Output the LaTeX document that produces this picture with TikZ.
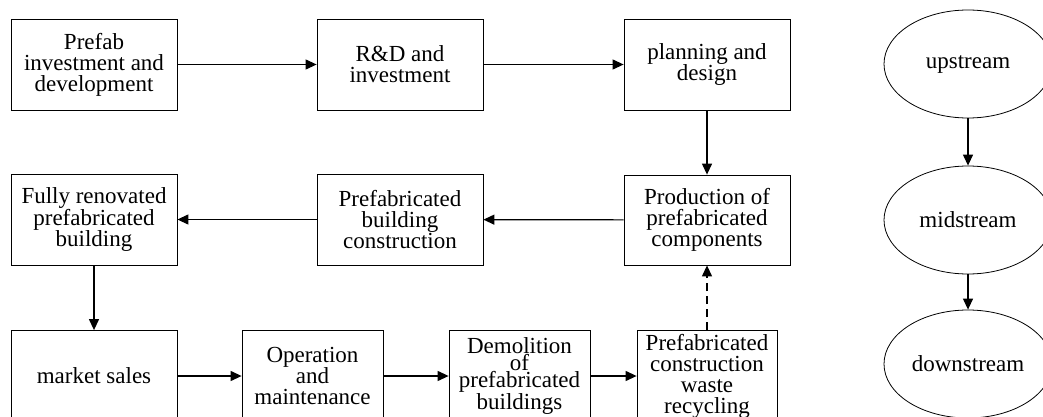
\documentclass[tikz,border=0pt]{standalone}
\usepackage{fontspec}
\setmainfont{Liberation Serif}
\usetikzlibrary{arrows.meta,shapes.geometric}
\begin{document}
\begin{tikzpicture}[x=1pt,y=-1pt,
  box/.style={draw, line width=0.8pt, rectangle, inner sep=0pt, align=center,
    font=\fontsize{23}{21}\selectfont},
  wide/.style={box, minimum width=166pt, minimum height=91pt},
  narrow/.style={box, minimum width=141pt, minimum height=91pt},
  oval/.style={draw, line width=0.8pt, ellipse, inner sep=0pt, minimum width=168pt,
    minimum height=108pt, font=\fontsize{23}{21}\selectfont},
  flow/.style={line width=1.2pt, -{Triangle[length=11pt,width=10pt]}},
  back/.style={flow, dashed, dash pattern=on 8pt off 5pt}]
\useasboundingbox (0,0) rectangle (1043,417);
\clip (0,0) rectangle (1043,417);
\fill[white] (0,0) rectangle (1043,417);
% row 1
\node[wide] (a) at (94,64.5) {Prefab\\investment and\\development};
\node[wide] (b) at (400,64.5) {R\&D and\\investment};
\node[wide] (c) at (707,64.5) {planning and\\design};
% row 2
\node[wide, minimum height=90pt] (d) at (707,220) {Production of\\prefabricated\\components};
\node[wide] (e) at (400,219.5) {Prefabricated\\building\\construction};
\node[wide] (f) at (94,219.5) {Fully renovated\\prefabricated\\building};
% row 3
\node[wide] (g) at (94,376) {market sales};
\node[narrow] (h) at (312.5,376) {Operation\\and\\maintenance};
\node[narrow, font=\fontsize{23}{13.5}\selectfont] (i) at (519.5,376) {Demolition\\of\\prefabricated\\buildings};
\node[box, minimum width=140pt, minimum height=91pt] (j) at (707,376) {Prefabricated\\construction\\waste\\recycling};
% ellipses
\node[oval] (u) at (968,64) {upstream};
\node[oval] (m) at (968,220) {midstream};
\node[oval] (w) at (968,364) {downstream};
% connectors
\draw[flow] (a) -- (b);
\draw[flow] (b) -- (c);
\draw[flow] (c) -- (d);
\draw[flow] (d) -- (e);
\draw[flow] (e) -- (f);
\draw[flow] (f) -- (g);
\draw[flow] (g) -- (h);
\draw[flow] (h) -- (i);
\draw[flow] (i) -- (j);
\draw[back] (j) -- (d);
\draw[flow] (u) -- (m);
\draw[flow] (m) -- (w);
\end{tikzpicture}
\end{document}
